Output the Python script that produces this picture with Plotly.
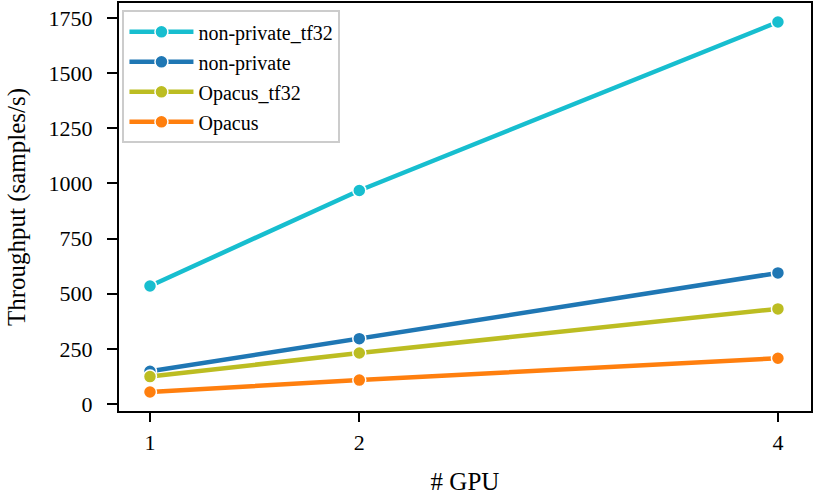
import plotly.graph_objects as go

gpus = [1, 2, 4]
series_names = ["non-private_tf32", "non-private", "Opacus_tf32", "Opacus"]
non_private_tf32 = [535, 968, 1732]
non_private = [148, 296, 594]
opacus_tf32 = [124, 231, 431]
opacus = [54, 108, 207]
colors = ["#17becf", "#1f77b4", "#bcbd22", "#ff7f0e"]
y_ticks = [0, 250, 500, 750, 1000, 1250, 1500, 1750]

fig = go.Figure()
for name, vals, c in zip(series_names, [non_private_tf32, non_private, opacus_tf32, opacus], colors):
    fig.add_trace(go.Scatter(
        x=gpus, y=vals, name=name, mode="lines+markers", legendgroup=name,
        line=dict(color=c, width=4.5),
        marker=dict(size=13, color=c, line=dict(color="white", width=1.5)),
    ))

font = "Liberation Serif, serif"
fig.update_layout(
    width=814, height=498,
    margin=dict(l=119, r=3, t=3, b=87),
    paper_bgcolor="white", plot_bgcolor="white",
    font=dict(family=font, size=20, color="black"),
    showlegend=True,
    legend=dict(
        x=0.005, y=0.982, xanchor="left", yanchor="top",
        bgcolor="white", bordercolor="#cccccc", borderwidth=2,
        font=dict(family=font, size=20),
        tracegroupgap=1, itemwidth=64,
    ),
    xaxis=dict(
        range=[0.852, 4.158], tickvals=gpus, ticktext=[str(g) for g in gpus],
        showgrid=False, zeroline=False, automargin=False,
        showline=True, linecolor="black", linewidth=2, mirror=True,
        ticks="outside", ticklen=9, tickwidth=2, tickcolor="black",
        ticklabelstandoff=2,
        tickfont=dict(family=font, size=22),
        title=dict(text="# GPU", font=dict(family=font, size=25), standoff=18),
    ),
    yaxis=dict(
        range=[-32, 1818], tickvals=y_ticks,
        showgrid=False, zeroline=False, automargin=False,
        showline=True, linecolor="black", linewidth=2, mirror=True,
        ticks="outside", ticklen=10, tickwidth=2, tickcolor="black",
        ticklabelstandoff=10,
        tickfont=dict(family=font, size=22),
        title=dict(text="Throughput (samples/s)", font=dict(family=font, size=25), standoff=16),
    ),
)

fig.write_html("out.html", config={"displayModeBar": False},
               post_script="document.body.style.margin='0';document.body.style.overflow='hidden';")
